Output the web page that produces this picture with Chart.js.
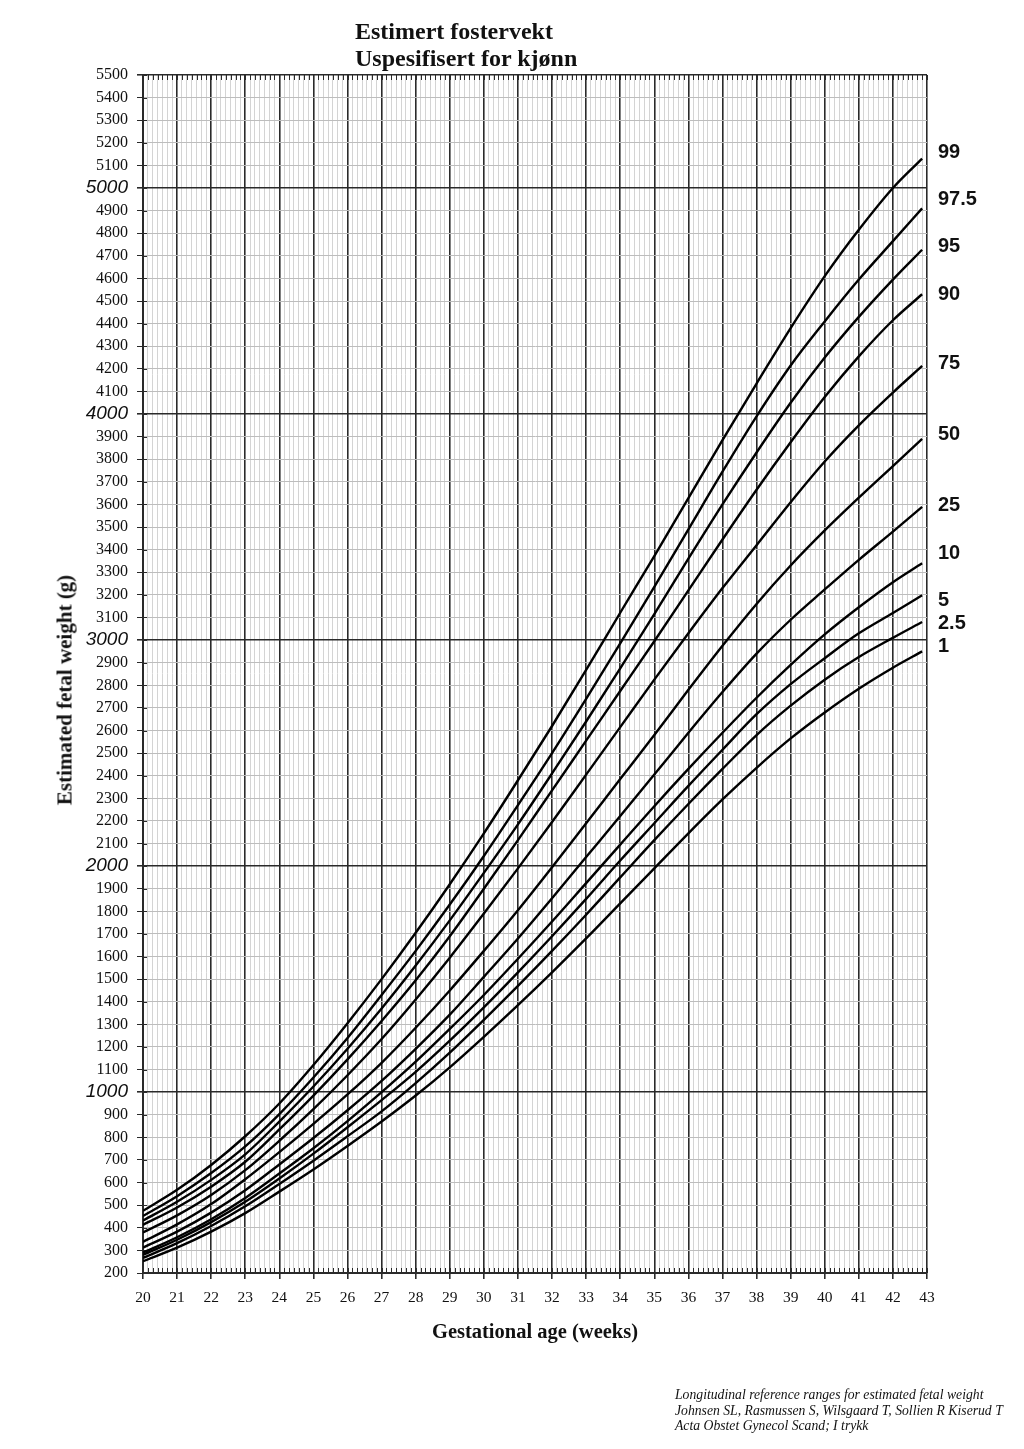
<!DOCTYPE html>
<html lang="no">
<head>
<meta charset="UTF-8">
<title>Estimert fostervekt</title>
<script src="https://cdn.jsdelivr.net/npm/chart.js@4"></script>
<style>
  * { margin: 0; padding: 0; box-sizing: border-box; }
  body { background: #fff; width: 1024px; height: 1449px; position: relative; overflow: hidden;
         font-family: 'Liberation Serif', 'Times New Roman', serif; color: #111; }
  #chart { position: absolute; left: 0; top: 0; }
  .title { position: absolute; left: 355px; top: 18px; font-size: 24px; font-weight: bold; line-height: 27px; }
  .ytitle { position: absolute; left: 65px; top: 690px; transform: translate(-50%, -50%) rotate(-90deg);
            font-size: 21px; font-weight: bold; white-space: nowrap; }
  .xtitle { position: absolute; left: 535px; top: 1320px; transform: translateX(-50%); font-size: 20.5px;
            font-weight: bold; white-space: nowrap; }
  .note { position: absolute; left: 675px; top: 1387px; font-size: 13.7px; font-style: italic; line-height: 15.7px;
          white-space: nowrap; }
</style>
</head>
<body>
<canvas id="chart" width="1024" height="1449"></canvas>
<div class="title">Estimert fostervekt<br>Uspesifisert for kjønn</div>
<div class="ytitle">Estimated fetal weight (g)</div>
<div class="xtitle">Gestational age (weeks)</div>
<div class="note">Longitudinal reference ranges for estimated fetal weight<br>Johnsen SL, Rasmussen S, Wilsgaard T, Sollien R Kiserud T<br>Acta Obstet Gynecol Scand; I trykk</div>

<script>
// ── Data ─────────────────────────────────────────────────────────────────────
const weeks = [20, 21, 22, 23, 24, 25, 26, 27, 28, 29, 30, 31, 32, 33, 34, 35, 36, 37, 38, 39, 40, 41, 42, 42.857];

const p99  = [475, 568, 678, 805, 950, 1120, 1305, 1500, 1705, 1920, 2145, 2380, 2620, 2868, 3121, 3372, 3628, 3885, 4135, 4380, 4610, 4815, 5000, 5130];
const p975 = [452, 540, 642, 760, 903, 1065, 1240, 1430, 1625, 1830, 2045, 2270, 2500, 2740, 2985, 3235, 3490, 3745, 3990, 4215, 4410, 4595, 4765, 4910];
const p95  = [432, 515, 612, 725, 870, 1025, 1192, 1370, 1560, 1760, 1970, 2185, 2410, 2640, 2875, 3115, 3360, 3600, 3830, 4050, 4250, 4430, 4595, 4727];
const p90  = [413, 490, 582, 692, 835, 985, 1145, 1315, 1495, 1690, 1900, 2115, 2335, 2555, 2775, 2995, 3220, 3445, 3665, 3875, 4075, 4255, 4415, 4530];
const p75  = [379, 455, 545, 655, 785, 925, 1075, 1235, 1410, 1595, 1790, 1990, 2195, 2405, 2615, 2825, 3030, 3230, 3420, 3610, 3790, 3950, 4095, 4213];
const p50  = [338, 415, 505, 615, 735, 860, 990, 1130, 1285, 1450, 1625, 1805, 1995, 2190, 2385, 2580, 2780, 2975, 3160, 3330, 3485, 3630, 3770, 3890];
const p25  = [312, 383, 467, 566, 680, 797, 920, 1050, 1192, 1343, 1510, 1680, 1858, 2040, 2222, 2405, 2590, 2770, 2940, 3090, 3224, 3355, 3480, 3589];
const p10  = [290, 358, 438, 532, 640, 752, 872, 1000, 1135, 1280, 1430, 1590, 1755, 1925, 2095, 2265, 2430, 2590, 2745, 2890, 3025, 3145, 3256, 3340];
const p5   = [280, 347, 425, 515, 618, 728, 845, 965, 1090, 1228, 1375, 1530, 1690, 1855, 2025, 2190, 2355, 2515, 2672, 2805, 2920, 3030, 3120, 3198];
const p2_5 = [267, 332, 408, 495, 594, 697, 805, 915, 1040, 1175, 1320, 1470, 1625, 1785, 1950, 2115, 2275, 2430, 2580, 2710, 2825, 2925, 3010, 3080];
const p1   = [252, 312, 383, 465, 560, 658, 762, 870, 985, 1110, 1245, 1385, 1530, 1680, 1835, 1990, 2145, 2295, 2435, 2565, 2680, 2785, 2878, 2950];

const percentileNames = ['99', '97.5', '95', '90', '75', '50', '25', '10', '5', '2.5', '1'];
const percentileSeries = [p99, p975, p95, p90, p75, p50, p25, p10, p5, p2_5, p1];

// axis ranges
const weekMin = 20, weekMax = 43, daysPerWeek = 7;
const weightMin = 200, weightMax = 5500, weightStep = 100;

// label tweaks (px) so the right-hand labels sit like the print
const labelNudge = [-6, -9, -3, 0, -2, -4, -1, -10, 5, 1, -5];

// ── Styling ──────────────────────────────────────────────────────────────────
const MAJOR = '#2a2a2a';
const MINOR_V = '#d4d4d4';
const MINOR_H = '#bdbdbd';

const dayTicks = [];
for (let i = 0; i <= (weekMax - weekMin) * daysPerWeek; i++) dayTicks.push({ value: weekMin + i / daysPerWeek });
const weightTicks = [];
for (let v = weightMin; v <= weightMax; v += weightStep) weightTicks.push({ value: v });

const isMajorWeight = v => v % 1000 === 0 || v === weightMax;

// small inward ticks (days along top/bottom, 100 g along the left)
const innerTicks = {
  id: 'innerTicks',
  beforeDatasetsDraw(chart) {
    const { ctx, chartArea: a, scales: { x, y } } = chart;
    ctx.save();
    ctx.strokeStyle = MAJOR;
    ctx.lineWidth = 1;
    ctx.beginPath();
    dayTicks.forEach(t => {
      const px = Math.round(x.getPixelForValue(t.value)) + 0.5;
      ctx.moveTo(px, a.top); ctx.lineTo(px, a.top + 5);
      ctx.moveTo(px, a.bottom); ctx.lineTo(px, a.bottom - 5);
    });
    weightTicks.forEach(t => {
      const py = Math.round(y.getPixelForValue(t.value)) + 0.5;
      ctx.moveTo(a.left, py); ctx.lineTo(a.left + 4, py);
    });
    ctx.stroke();
    ctx.restore();
  }
};

// percentile names at the end of each curve
const endLabels = {
  id: 'endLabels',
  afterDatasetsDraw(chart) {
    const { ctx, scales: { y } } = chart;
    ctx.save();
    ctx.font = 'bold 20px "Liberation Sans", Arial, sans-serif';
    ctx.fillStyle = '#111';
    ctx.textBaseline = 'middle';
    percentileSeries.forEach((s, i) => {
      const py = y.getPixelForValue(s[s.length - 1]) + labelNudge[i];
      ctx.fillText(percentileNames[i], 938, py);
    });
    ctx.restore();
  }
};

new Chart(document.getElementById('chart'), {
  type: 'line',
  data: {
    datasets: percentileSeries.map((s, i) => ({
      label: percentileNames[i],
      data: weeks.map((w, j) => ({ x: w, y: s[j] })),
      borderColor: '#000',
      borderWidth: 2.4,
      pointRadius: 0,
      tension: 0.4,
      cubicInterpolationMode: 'monotone',
      fill: false
    }))
  },
  options: {
    responsive: false,
    animation: false,
    layout: { padding: { top: 75, right: 97, left: 0, bottom: 0 } },
    plugins: { legend: { display: false }, tooltip: { enabled: false } },
    scales: {
      x: {
        type: 'linear',
        min: weekMin,
        max: weekMax,
        afterBuildTicks: scale => { scale.ticks = dayTicks.map(t => ({ ...t })); },
        afterFit: scale => { scale.height = 176; },
        border: { color: MAJOR, width: 2 },
        grid: {
          color: c => (c.index % daysPerWeek === 0 ? MAJOR : MINOR_V),
          lineWidth: c => (c.index % daysPerWeek === 0 ? 1.6 : 1),
          tickColor: c => (c.index % daysPerWeek === 0 ? MAJOR : 'rgba(0,0,0,0)'),
          tickLength: 6
        },
        ticks: {
          autoSkip: false,
          maxRotation: 0,
          padding: 10,
          color: '#111',
          font: { family: '"Liberation Serif", "Times New Roman", serif', size: 15.5 },
          callback: (v, i) => (i % daysPerWeek === 0 ? String(weekMin + i / daysPerWeek) : '')
        }
      },
      y: {
        type: 'linear',
        min: weightMin,
        max: weightMax,
        afterBuildTicks: scale => { scale.ticks = weightTicks.map(t => ({ ...t })); },
        afterFit: scale => { scale.width = 143; },
        border: { color: MAJOR, width: 2 },
        grid: {
          color: c => (isMajorWeight(c.tick.value) ? MAJOR : MINOR_H),
          lineWidth: c => (isMajorWeight(c.tick.value) ? 1.6 : 1),
          tickColor: MAJOR,
          tickLength: 6
        },
        ticks: {
          autoSkip: false,
          padding: 9,
          color: '#111',
          font: c => (c.tick && c.tick.value % 1000 === 0
            ? { family: '"Liberation Sans", Arial, sans-serif', style: 'italic', size: 19 }
            : { family: '"Liberation Serif", "Times New Roman", serif', size: 16 }),
          callback: v => String(v)
        }
      }
    }
  },
  plugins: [innerTicks, endLabels]
});
</script>
</body>
</html>
